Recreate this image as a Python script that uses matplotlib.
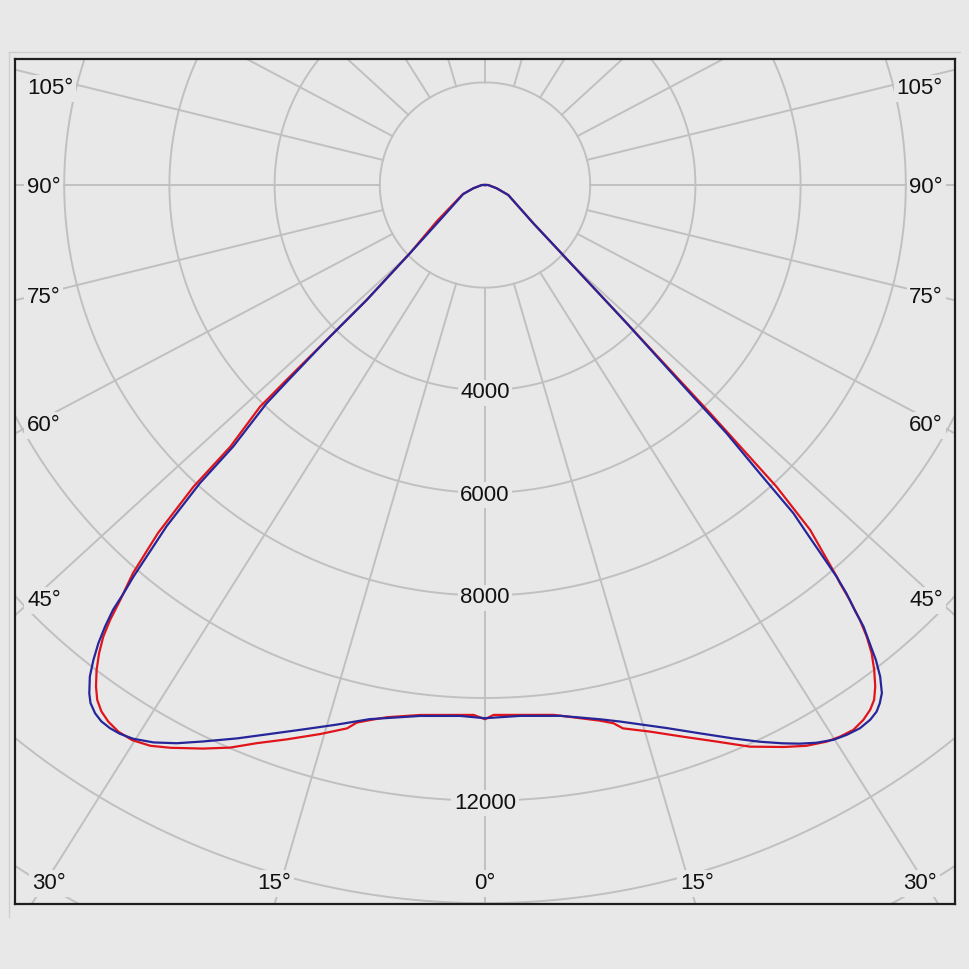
import numpy as np
import matplotlib.pyplot as plt
from matplotlib.lines import Line2D

# ── colours ──────────────────────────────────
BG = '#e8e8e8'
GRID = '#c0c0c0'
RED = '#e0141a'
BLUE = '#26269a'

# ── data: gamma angle (deg, 0 = nadir, negative = left half) / intensity (cd) ──
red_angles = [-180, -90, -73.9, -67.0, -52.4, -47.0, -45.1, -44.9, -44.8, -44.7,
              -43.5, -43.3, -42.5, -41.5, -40.6, -40.05, -39.5, -38.8, -38.0, -37.1,
              -36.3, -35.4, -34.4, -33.2, -31.8, -30.2, -28.6, -26.0, -23.85, -21.75,
              -19.2, -16.3, -13.9, -13.1, -11.8, -10.2, -6.8, -1.2, 0, 0.9,
              7.2, 11.8, 13.1, 13.9, 16.4, 19.3, 22.1, 24.7, 27.4, 29.2,
              30.9, 32.1, 33.4, 34.6, 35.6, 36.4, 37.2, 38.05, 38.85, 39.5,
              40.05, 40.6, 41.0, 41.2, 42.6, 43.3, 43.9, 45.0, 47.6, 50.9,
              66.2, 73.9, 90, 180]
red_cd = [0, 60, 231, 460, 1151, 1960, 3180, 4270, 5353, 6080,
          7037, 8082, 9201, 10098, 10657, 11077, 11409, 11708, 11994, 12260,
          12453, 12589, 12677, 12733, 12732, 12648, 12495, 12223, 11991, 11715,
          11442, 11150, 10911, 10760, 10654, 10542, 10404, 10332, 10414, 10331,
          10411, 10667, 10772, 10911, 11107, 11395, 11710, 12051, 12339, 12523,
          12646, 12695, 12722, 12667, 12580, 12467, 12271, 12005, 11719, 11409,
          11077, 10657, 10287, 10160, 9131, 8082, 6172, 3830, 1940, 1190,
          484, 231, 60, 0]

blue_angles = [-180, -90, -73.9, -67.0, -51.4, -47.0, -45.1, -44.9, -44.5, -44.3,
               -43.2, -43.0, -42.3, -41.2, -40.8, -40.5, -40.0, -39.45, -38.8, -38.1,
               -37.2, -36.6, -35.75, -34.9, -33.95, -33.0, -31.8, -30.1, -28.3, -26.3,
               -23.6, -20.9, -18.0, -15.0, -11.9, -6.8, -2.6, 0, 3.7, 7.9,
               11.85, 13.8, 15.0, 18.1, 20.9, 23.6, 25.7, 27.5, 28.8, 30.1,
               31.5, 32.7, 33.95, 35.1, 35.95, 36.6, 37.3, 38.1, 38.75, 39.3,
               39.9, 40.3, 40.8, 41.2, 42.1, 42.5, 42.9, 43.5, 43.8, 45.0,
               47.6, 50.9, 66.2, 73.9, 90, 180]
blue_cd = [0, 60, 231, 448, 1094, 1951, 3175, 4264, 5332, 5944,
           6994, 7947, 8998, 10148, 10517, 10887, 11238, 11568, 11881, 12175,
           12443, 12579, 12688, 12748, 12765, 12753, 12700, 12560, 12359, 12100,
           11772, 11454, 11157, 10890, 10641, 10423, 10360, 10394, 10370, 10447,
           10641, 10770, 10864, 11138, 11441, 11772, 12044, 12270, 12427, 12567,
           12683, 12735, 12765, 12739, 12681, 12587, 12451, 12175, 11873, 11548,
           11218, 10867, 10517, 10148, 9067, 8678, 7675, 6673, 5719, 3811,
           1930, 1183, 484, 231, 60, 0]

rings = [2000, 4000, 6000, 8000, 10000, 12000, 14000, 16000, 18000]
ring_labels = [4000, 6000, 8000, 12000]
spokes = list(range(0, 360, 15))
side_labels = ['105°', '90°', '75°', '60°', '45°']
bottom_labels = ['30°', '15°', '0°', '15°', '30°']

# ── layout (pixels of the 969 px canvas) ──────
W = 969
CX, CY = 485, 185            # pole
SX, SY = 0.0526, 0.0513      # px per cd
FRAME = (15, 59, 955, 904)   # left, top, right, bottom
SPOKE_STRETCH = 1.065


def fig_xy(x, y):
    return x / W, 1 - y / W


def polar_xy(angles, cd):
    a = np.radians(angles)
    cd = np.asarray(cd, dtype=float)
    return cd * np.sin(a), -cd * np.cos(a)


fig = plt.figure(figsize=(W / 100, W / 100), dpi=100, facecolor=BG)
l, t, r, b = FRAME
ax = fig.add_axes([l / W, 1 - b / W, (r - l) / W, (b - t) / W])
ax.set_facecolor(BG)
ax.set_xlim(-(CX - l) / SX, (r - CX) / SX)
ax.set_ylim(-(b - CY) / SY, (CY - t) / SY)
ax.set_xticks([])
ax.set_yticks([])
for s in ax.spines.values():
    s.set_color('#1e1e1e')
    s.set_linewidth(1.6)

# grid
tt = np.linspace(0, 2 * np.pi, 721)
for rv in rings:
    ax.plot(rv * np.sin(tt), rv * np.cos(tt), color=GRID, lw=1.4, zorder=1)
for sa in spokes:
    a = np.radians(sa)
    d = np.array([np.sin(a) * SPOKE_STRETCH, -np.cos(a)])
    d /= np.hypot(*d)
    p0, p1 = d * rings[0], d * 40000
    ax.plot([p0[0], p1[0]], [p0[1], p1[1]], color=GRID, lw=1.4, zorder=1)

# curves
rx, ry = polar_xy(red_angles, red_cd)
bx, by = polar_xy(blue_angles, blue_cd)
ax.plot(rx, ry, color=RED, lw=1.6, zorder=3, solid_joinstyle='round')
ax.plot(bx, by, color=BLUE, lw=1.6, zorder=4, solid_joinstyle='round')

lab = dict(fontsize=16, family=['Liberation Sans', 'DejaVu Sans'], color='#111111',
           va='center_baseline', zorder=5,
           bbox=dict(boxstyle='square,pad=0.12', facecolor=BG, edgecolor='none'))

for v in ring_labels:
    ax.text(0, -v, str(v), ha='center', **lab)

side_y = [86, 185, 295, 423, 598]
for txt, y in zip(side_labels, side_y):
    fig.text(*fig_xy(27, y), txt, ha='left', **lab)
    fig.text(*fig_xy(943, y), txt, ha='right', **lab)

bottom_x = [49, 274, 485, 697, 920]
for txt, x in zip(bottom_labels, bottom_x):
    fig.text(*fig_xy(x, 881), txt, ha='center', **lab)

# faint panel edge
fig.add_artist(Line2D([9 / W, 9 / W], [1 - 52 / W, 1 - 917 / W], color='#cfcfcf', lw=1))
fig.add_artist(Line2D([9 / W, 960 / W], [1 - 52 / W, 1 - 52 / W], color='#cfcfcf', lw=1))

fig.savefig('out.png', dpi=100, facecolor=BG)
